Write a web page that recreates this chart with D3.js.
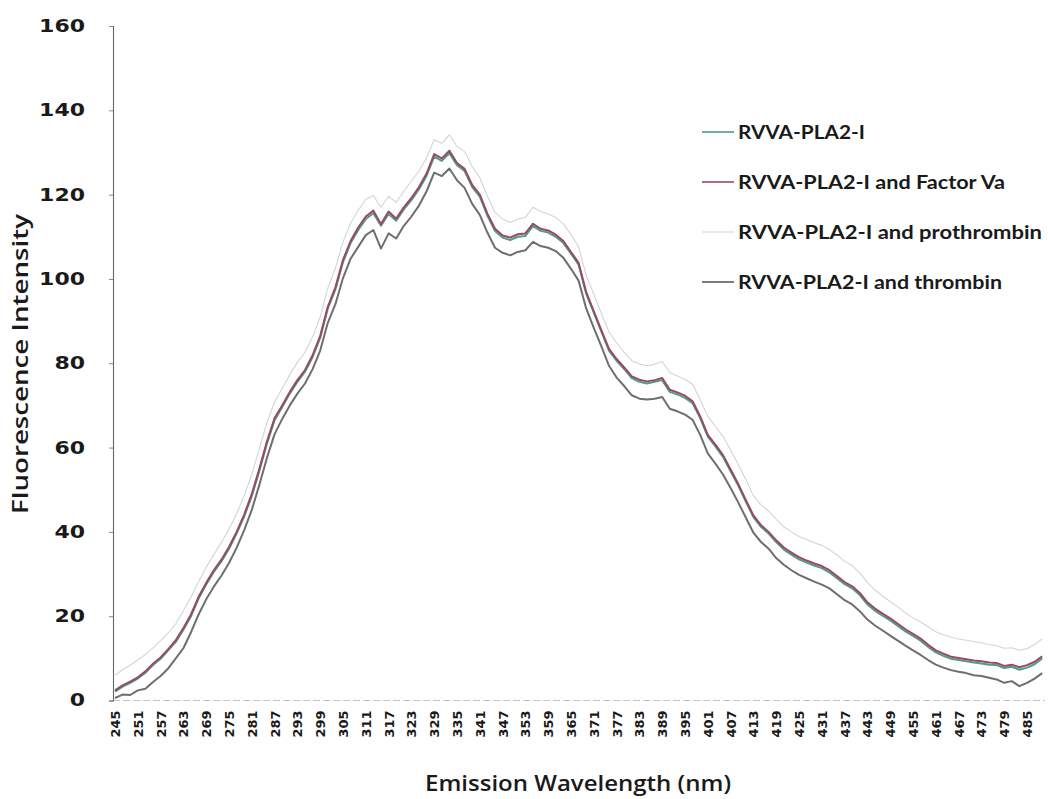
<!DOCTYPE html>
<html>
<head>
<meta charset="utf-8">
<script src="https://cdn.jsdelivr.net/npm/d3@7"></script>
<style>
  html, body { margin: 0; padding: 0; background: #ffffff; }
  svg { display: block; }
</style>
</head>
<body>
<svg id="chart" width="1048" height="799"></svg>
<script>
// Emission wavelengths (nm), sampled every 2 nm
const wavelengths = d3.range(245, 490, 2);

// Tick labels on the wavelength axis (every 6 nm)
const xTickLabels = d3.range(245, 486, 6);
const yTickLabels = [0, 20, 40, 60, 80, 100, 120, 140, 160];

const seriesNames = [
  "RVVA-PLA2-I",
  "RVVA-PLA2-I and Factor Va",
  "RVVA-PLA2-I and prothrombin",
  "RVVA-PLA2-I and thrombin"
];

// Fluorescence intensity, one value per wavelength
const pla2 = [
  2.1, 3.3, 4.2, 5.2, 6.6, 8.4, 9.9, 11.9, 13.9, 16.8,
  20.0, 24.2, 27.5, 30.5, 33.0, 36.0, 39.6, 43.7, 48.5, 54.5,
  61.0, 66.5, 69.6, 72.8, 75.6, 78.0, 81.5, 86.0, 93.0, 97.5,
  104.0, 108.5, 111.6, 114.2, 115.6, 112.6, 115.4, 113.8, 116.5, 118.7,
  121.3, 124.5, 129.0, 128.0, 129.8, 127.0, 125.6, 121.8, 119.5, 115.0,
  111.4, 109.8, 109.2, 110.0, 110.2, 112.6, 111.4, 111.0, 110.0, 108.5,
  106.0, 103.4, 96.5, 92.0, 87.5, 83.0, 80.6, 78.6, 76.5, 75.6,
  75.2, 75.6, 76.0, 73.2, 72.6, 71.8, 70.5, 67.0, 62.6, 60.3,
  57.8, 54.4, 51.0, 47.2, 43.5, 41.2, 39.6, 37.6, 35.8, 34.6,
  33.5, 32.7, 32.0, 31.4, 30.4, 29.0, 27.6, 26.6, 25.0, 22.8,
  21.3, 20.1, 19.0, 17.7, 16.4, 15.3, 14.2, 12.7, 11.4, 10.6,
  9.9, 9.6, 9.3, 9.0, 8.8, 8.5, 8.4, 7.7, 8.0, 7.3,
  7.8, 8.6, 10.0
];

const pla2FactorVa = [
  2.4, 3.6, 4.5, 5.5, 6.9, 8.7, 10.2, 12.2, 14.3, 17.2,
  20.4, 24.6, 27.9, 30.9, 33.4, 36.4, 40.0, 44.1, 49.0, 55.0,
  61.5, 67.0, 70.0, 73.2, 76.0, 78.4, 81.9, 86.5, 93.4, 98.0,
  104.5, 109.0, 112.2, 114.8, 116.2, 113.0, 116.0, 114.3, 117.0, 119.2,
  121.8, 125.0, 129.6, 128.6, 130.4, 127.5, 126.1, 122.3, 120.0, 115.5,
  111.9, 110.3, 109.8, 110.6, 110.8, 113.1, 111.9, 111.5, 110.5, 109.0,
  106.4, 103.8, 96.9, 92.3, 87.8, 83.4, 81.0, 79.0, 76.9, 76.1,
  75.7, 76.0, 76.5, 73.7, 73.1, 72.3, 71.0, 67.4, 63.0, 60.7,
  58.2, 54.8, 51.4, 47.6, 43.9, 41.6, 40.0, 38.0, 36.3, 35.1,
  34.0, 33.2, 32.5, 31.9, 30.9, 29.5, 28.1, 27.1, 25.5, 23.3,
  21.8, 20.6, 19.5, 18.2, 16.9, 15.8, 14.7, 13.2, 11.9, 11.1,
  10.4, 10.1, 9.8, 9.5, 9.3, 9.0, 8.9, 8.2, 8.5, 7.9,
  8.4, 9.2, 10.5
];

const pla2Prothrombin = [
  6.0, 7.3, 8.4, 9.6, 10.9, 12.5, 14.2, 16.0, 18.2, 21.3,
  24.5, 28.2, 31.6, 34.6, 37.5, 40.6, 44.3, 48.6, 53.6, 59.8,
  66.0, 70.8, 74.0, 77.3, 80.2, 82.6, 86.2, 91.0, 97.8, 102.6,
  108.8, 113.2, 116.3, 118.9, 119.8, 117.0, 119.6, 118.2, 120.8, 123.2,
  125.6, 128.7, 133.0, 132.2, 134.2, 131.4, 130.2, 126.6, 124.0, 119.6,
  115.8, 114.2, 113.4, 114.2, 114.6, 117.0, 116.0, 115.4, 114.6, 113.0,
  110.5, 107.6, 100.8, 96.4, 91.8, 87.4, 84.8, 82.6, 80.6, 79.8,
  79.4, 79.8, 80.4, 77.8, 77.0, 76.2, 75.0, 71.4, 67.4, 65.0,
  62.6, 59.4, 56.0, 52.4, 48.6, 46.4, 44.9, 43.0, 41.2, 40.0,
  38.9, 38.2, 37.4, 36.8, 35.8, 34.5, 33.0, 32.0, 30.2, 28.0,
  26.2, 24.8, 23.5, 22.2, 20.8, 19.6, 18.6, 17.5, 16.3, 15.6,
  15.0, 14.6, 14.3, 14.0, 13.7, 13.3, 13.0, 12.4, 12.5, 11.9,
  12.3, 13.3, 14.6
];

const pla2Thrombin = [
  0.6, 1.4, 1.3, 2.4, 2.8, 4.4, 5.8, 7.6, 10.0, 12.4,
  16.2, 20.4, 24.0, 27.0, 29.6, 32.6, 36.2, 40.4, 45.2, 51.2,
  57.6, 63.2, 66.8, 70.0, 72.8, 75.2, 78.6, 83.0, 89.6, 94.0,
  100.2, 104.8, 107.6, 110.4, 111.6, 107.2, 110.8, 109.6, 112.6, 114.8,
  117.4, 120.8, 125.2, 124.4, 126.2, 123.4, 121.6, 117.8, 115.2, 111.0,
  107.4, 106.2, 105.6, 106.4, 106.8, 108.8, 107.8, 107.4, 106.6, 105.0,
  102.4, 99.6, 93.0, 88.4, 84.0, 79.4, 76.6, 74.6, 72.4, 71.6,
  71.4, 71.6, 72.0, 69.2, 68.6, 67.8, 66.6, 63.0, 58.6, 56.2,
  53.6, 50.4, 47.0, 43.4, 39.8, 37.6, 36.0, 33.8, 32.2, 30.9,
  29.8, 29.0, 28.2, 27.5, 26.6, 25.2, 23.8, 22.8, 21.2, 19.2,
  17.8, 16.6, 15.4, 14.2, 13.0, 11.9, 10.8, 9.6, 8.5, 7.8,
  7.2, 6.8, 6.5, 6.0, 5.8, 5.4, 5.0, 4.2, 4.6, 3.4,
  4.2, 5.2, 6.5
];

const svg = d3.select("#chart");

const x = d3.scaleLinear().domain([245, 485]).range([115, 1027]);
const y = d3.scaleLinear().domain([0, 160]).range([700.5, 26]);

// Horizontal axis: faint baseline with rotated wavelength labels
svg.append("line")
  .attr("x1", 113).attr("x2", 1045)
  .attr("y1", y(0)).attr("y2", y(0))
  .attr("stroke", "#c4c4c4").attr("stroke-width", 1.2)
  .attr("stroke-dasharray", "7,3");

const xAxis = d3.axisBottom(x)
  .tickValues(xTickLabels)
  .tickSize(0)
  .tickFormat(d3.format("d"));

const gx = svg.append("g")
  .attr("transform", `translate(0,${y(0) + 10})`)
  .call(xAxis);
gx.select(".domain").remove();
gx.selectAll("text")
  .attr("transform", "rotate(-90)")
  .attr("x", 0).attr("y", 0).attr("dy", "0.35em")
  .attr("text-anchor", "end")
  .attr("font-family", "DejaVu Sans")
  .attr("font-weight", "bold")
  .attr("font-size", 13)
  .attr("fill", "#1a1a1a")
  .attr("textLength", 27)
  .attr("lengthAdjust", "spacingAndGlyphs");

// Vertical axis with outside ticks and wide bold labels
const yAxis = d3.axisLeft(y)
  .tickValues(yTickLabels)
  .tickSize(4)
  .tickPadding(24)
  .tickFormat(d3.format("d"));

const gy = svg.append("g")
  .attr("transform", "translate(113,0)")
  .call(yAxis);
gy.select(".domain")
  .attr("stroke", "#666").attr("stroke-width", 1.1);
gy.selectAll(".tick line").attr("stroke", "#888");
gy.selectAll("text")
  .attr("font-family", "DejaVu Sans")
  .attr("font-weight", "bold")
  .attr("font-size", 17)
  .attr("fill", "#1a1a1a")
  .attr("textLength", d => String(d).length * 15.3)
  .attr("lengthAdjust", "spacingAndGlyphs");

// Axis titles
svg.append("text")
  .attr("x", 578).attr("y", 791)
  .attr("text-anchor", "middle")
  .attr("font-family", "Open Sans")
  .attr("font-weight", 600)
  .attr("font-size", 21)
  .attr("fill", "#1a1a1a")
  .attr("textLength", 306)
  .attr("lengthAdjust", "spacingAndGlyphs")
  .text("Emission Wavelength (nm)");

svg.append("text")
  .attr("transform", "translate(28,364) rotate(-90)")
  .attr("text-anchor", "middle")
  .attr("font-family", "Open Sans")
  .attr("font-weight", 600)
  .attr("font-size", 21)
  .attr("fill", "#1a1a1a")
  .attr("textLength", 300)
  .attr("lengthAdjust", "spacingAndGlyphs")
  .text("Fluorescence Intensity");

// Spectra
const series = [
  { name: seriesNames[2], values: pla2Prothrombin, color: "#d4d4d4", width: 1.1 },
  { name: seriesNames[3], values: pla2Thrombin, color: "#6e6e6e", width: 2 },
  { name: seriesNames[0], values: pla2, color: "#4f9c8c", width: 2 },
  { name: seriesNames[1], values: pla2FactorVa, color: "#9a4a5c", width: 2 }
];

const line = d3.line()
  .x((d, i) => x(wavelengths[i]))
  .y(d => y(d));

svg.append("g")
  .selectAll("path")
  .data(series)
  .join("path")
  .attr("d", s => line(s.values))
  .attr("fill", "none")
  .attr("stroke", s => s.color)
  .attr("stroke-width", s => s.width)
  .attr("stroke-linejoin", "round");

// Legend
const legendItems = [
  { name: seriesNames[0], color: "#4f9c8c", w: 1.6, len: 127 },
  { name: seriesNames[1], color: "#9a4a5c", w: 1.6, len: 267 },
  { name: seriesNames[2], color: "#dadada", w: 1.2, len: 304 },
  { name: seriesNames[3], color: "#6e6e6e", w: 1.8, len: 264 }
];

const legend = svg.append("g");
legendItems.forEach((it, i) => {
  const cy = 132 + i * 50;
  legend.append("line")
    .attr("x1", 702).attr("x2", 734)
    .attr("y1", cy).attr("y2", cy)
    .attr("stroke", it.color).attr("stroke-width", it.w);
  legend.append("text")
    .attr("x", 738).attr("y", cy + 6.5)
    .attr("font-family", "Lato")
    .attr("font-weight", "bold")
    .attr("font-size", 18)
    .attr("fill", "#1a1a1a")
    .attr("textLength", it.len)
    .attr("lengthAdjust", "spacingAndGlyphs")
    .text(it.name);
});
</script>
</body>
</html>
